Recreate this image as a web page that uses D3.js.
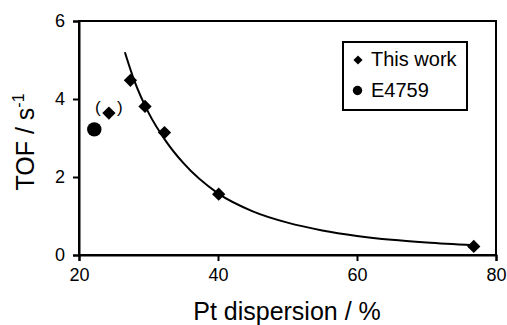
<!DOCTYPE html>
<html lang="en">
<head>
  <meta charset="UTF-8">
  <title>TOF vs Pt dispersion</title>
  <style>
    body { margin: 0; background: #fff; }
    svg { font-family: "Liberation Sans", Arial, sans-serif; }
  </style>
</head>
<body>
  <svg id="chart"></svg>
  <script src="https://d3js.org/d3.v7.min.js"></script>
  <script>
    // data
    const thisWorkX = [27.4, 29.5, 32.3, 40.1, 76.8];
    const thisWorkY = [4.48, 3.81, 3.14, 1.56, 0.22];
    const bracketX = [24.3];   // the "(◆)" point
    const bracketY = [3.64];
    const e4759X = [22.2];
    const e4759Y = [3.22];
    // fitted curve, points
    const fitX = [26.6, 28, 30, 32.5, 35, 40, 45, 50, 55, 60, 65, 70, 76.8];
    const fitY = [5.2, 4.45, 3.65, 2.92, 2.36, 1.58, 1.12, 0.83, 0.63, 0.49, 0.39, 0.32, 0.25];
    const xTicks = [20, 40, 60, 80];
    const yTicks = [0, 2, 4, 6];

    const width = 507;
    const height = 325;
    const margin = { top: 21, right: 11, bottom: 70, left: 79 };
    const font = "Liberation Sans, Arial, sans-serif";

    const svg = d3.select("#chart")
      .attr("width", width)
      .attr("height", height);

    const x = d3.scaleLinear().domain([20, 80]).range([margin.left, width - margin.right]);
    const y = d3.scaleLinear().domain([0, 6]).range([height - margin.bottom, margin.top]);

    // frame
    svg.append("rect")
      .attr("x", x(20)).attr("y", y(6))
      .attr("width", x(80) - x(20)).attr("height", y(0) - y(6))
      .attr("fill", "none").attr("stroke", "#000").attr("stroke-width", 2);

    const xAxis = svg.append("g")
      .attr("transform", `translate(0,${y(0)})`)
      .call(d3.axisBottom(x).tickValues(xTicks).tickFormat(d3.format("d")).tickSize(6).tickPadding(7));
    const yAxis = svg.append("g")
      .attr("transform", `translate(${x(20)},0)`)
      .call(d3.axisLeft(y).tickValues(yTicks).tickFormat(d3.format("d")).tickSize(6).tickPadding(8));

    [xAxis, yAxis].forEach(g => {
      g.attr("font-family", font).attr("font-size", 18);
      g.select(".domain").attr("stroke-width", 2);
      g.selectAll(".tick line").attr("stroke-width", 2);
      g.selectAll("text").attr("fill", "#000");
    });

    // axis titles
    svg.append("text")
      .attr("x", 287).attr("y", 320)
      .attr("text-anchor", "middle").attr("font-size", 25)
      .text("Pt dispersion / %");

    const yt = svg.append("text")
      .attr("transform", `translate(34,142) rotate(-90)`)
      .attr("text-anchor", "middle").attr("font-size", 25);
    yt.append("tspan").text("TOF / s");
    yt.append("tspan").attr("dy", -10).attr("font-size", 16).text("-1");

    // fit curve
    const line = d3.line()
      .x(d => x(d[0]))
      .y(d => y(d[1]))
      .curve(d3.curveMonotoneX);
    svg.append("path")
      .datum(fitX.map((v, i) => [v, fitY[i]]))
      .attr("d", line)
      .attr("fill", "none").attr("stroke", "#000").attr("stroke-width", 2);

    const diamond = d3.symbol().type(d3.symbolSquare).size(88);

    svg.selectAll(".tw")
      .data(thisWorkX.map((v, i) => [v, thisWorkY[i]]))
      .join("path")
      .attr("transform", d => `translate(${x(d[0])},${y(d[1])}) rotate(45)`)
      .attr("d", diamond)
      .attr("fill", "#000");

    svg.selectAll(".br")
      .data(bracketX.map((v, i) => [v, bracketY[i]]))
      .join("g")
      .each(function(d) {
        const g = d3.select(this);
        g.append("path")
          .attr("transform", `translate(${x(d[0])},${y(d[1])}) rotate(45)`)
          .attr("d", diamond)
          .attr("fill", "#000");
        g.append("text").attr("x", x(d[0]) - 11).attr("y", y(d[1]) + 0)
          .attr("text-anchor", "middle").attr("font-size", 17).text("(");
        g.append("text").attr("x", x(d[0]) + 11).attr("y", y(d[1]) + 0)
          .attr("text-anchor", "middle").attr("font-size", 17).text(")");
      });

    svg.selectAll(".e4")
      .data(e4759X.map((v, i) => [v, e4759Y[i]]))
      .join("circle")
      .attr("cx", d => x(d[0])).attr("cy", d => y(d[1]))
      .attr("r", 7.2).attr("fill", "#000");

    // legend
    const lg = svg.append("g");
    lg.append("rect")
      .attr("x", 343).attr("y", 42).attr("width", 124).attr("height", 68)
      .attr("fill", "#fff").attr("stroke", "#000").attr("stroke-width", 2);
    lg.append("path")
      .attr("transform", "translate(358,60) rotate(45)")
      .attr("d", d3.symbol().type(d3.symbolSquare).size(42))
      .attr("fill", "#000");
    lg.append("text").attr("x", 371).attr("y", 66).attr("font-size", 20).text("This work");
    lg.append("circle").attr("cx", 357.5).attr("cy", 90.5).attr("r", 4.7).attr("fill", "#000");
    lg.append("text").attr("x", 371).attr("y", 97).attr("font-size", 20).text("E4759");
  </script>
</body>
</html>
